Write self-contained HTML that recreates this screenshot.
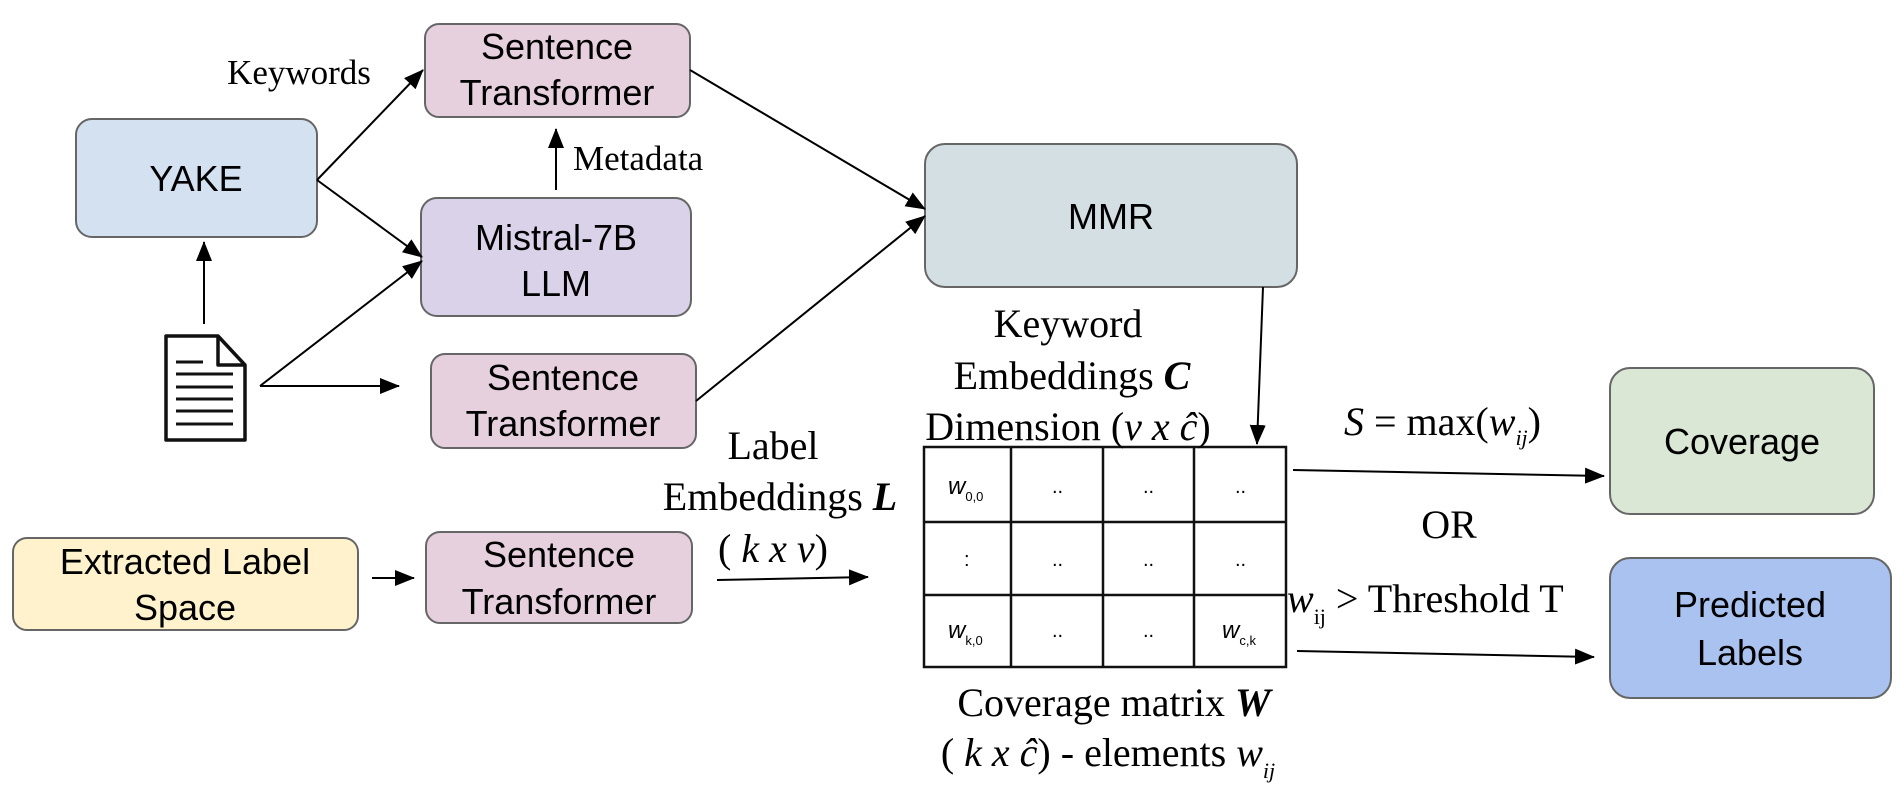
<!DOCTYPE html>
<html><head><meta charset="utf-8"><style>
html,body{margin:0;padding:0;background:#fff;}
svg{display:block;}
.s{font-family:"Liberation Sans",sans-serif;font-size:36px;fill:#000;text-anchor:middle;}
.r{font-family:"Liberation Serif",serif;font-size:40px;fill:#000;text-anchor:middle;}
.m{font-family:"Liberation Sans",sans-serif;font-size:20px;fill:#000;}
</style></head><body>
<svg width="1904" height="796" viewBox="0 0 1904 796" xmlns="http://www.w3.org/2000/svg">
<defs>
<marker id="b" markerWidth="20" markerHeight="16" refX="19" refY="8" orient="auto" markerUnits="userSpaceOnUse" viewBox="0 0 20 16"><path d="M0,0 L20,8 L0,16 z" fill="#000"/></marker></defs>
<g stroke="#666" stroke-width="2">
<rect x="425" y="24" width="265" height="93" rx="14" fill="#e6d0de"/>
<rect x="76" y="119" width="241" height="118" rx="16" fill="#d4e1f1"/>
<rect x="421" y="198" width="270" height="118" rx="16" fill="#d9d2e8"/>
<rect x="431" y="354" width="265" height="94" rx="14" fill="#e6d0de"/>
<rect x="925" y="144" width="372" height="143" rx="20" fill="#d3dfe3"/>
<rect x="13" y="538" width="345" height="92" rx="14" fill="#fff2cc"/>
<rect x="426" y="532" width="266" height="91" rx="14" fill="#e6d0de"/>
<rect x="1610" y="368" width="264" height="146" rx="20" fill="#d9e7d4"/>
<rect x="1610" y="558" width="281" height="140" rx="20" fill="#a9c2ef"/>
</g>
<text class="s" x="557" y="59">Sentence</text><text class="s" x="557" y="105">Transformer</text>
<text class="s" x="196" y="191">YAKE</text>
<text class="s" x="556" y="250">Mistral-7B</text><text class="s" x="556" y="296">LLM</text>
<text class="s" x="563" y="390">Sentence</text><text class="s" x="563" y="436">Transformer</text>
<text class="s" x="1111" y="229">MMR</text>
<text class="s" x="185" y="574">Extracted Label</text><text class="s" x="185" y="620">Space</text>
<text class="s" x="559" y="567">Sentence</text><text class="s" x="559" y="614">Transformer</text>
<text class="s" x="1742" y="454">Coverage</text>
<text class="s" x="1750" y="617">Predicted</text><text class="s" x="1750" y="665">Labels</text>
<g fill="none" stroke="#111" stroke-width="3.5" stroke-linejoin="round">
<path d="M166,336 H218 L245,365 V440 H166 Z"/><path d="M218,336 V365 H245"/>
</g>
<g stroke="#111" stroke-width="3">
<line x1="176" y1="362" x2="203" y2="362"/><line x1="176" y1="374" x2="233" y2="374"/>
<line x1="176" y1="387" x2="233" y2="387"/><line x1="176" y1="399" x2="233" y2="399"/>
<line x1="176" y1="411" x2="233" y2="411"/><line x1="176" y1="424" x2="233" y2="424"/>
</g>
<g stroke="#000" stroke-width="2" fill="none">
<line x1="204" y1="324" x2="204" y2="242" marker-end="url(#b)"/>
<line x1="317" y1="180" x2="423" y2="70" marker-end="url(#b)"/>
<line x1="317" y1="180" x2="422" y2="257" marker-end="url(#b)"/>
<line x1="260" y1="386" x2="422" y2="261" marker-end="url(#b)"/>
<line x1="260" y1="386" x2="399" y2="386" marker-end="url(#b)"/>
<line x1="556" y1="190" x2="556" y2="129" marker-end="url(#b)"/>
<line x1="690" y1="70" x2="925" y2="209" marker-end="url(#b)"/>
<line x1="696" y1="401" x2="925" y2="216" marker-end="url(#b)"/>
<line x1="1263" y1="287" x2="1257" y2="444" marker-end="url(#b)"/>
<line x1="372" y1="578" x2="414" y2="578" marker-end="url(#b)"/>
<line x1="717" y1="580" x2="868" y2="577" marker-end="url(#b)"/>
<line x1="1293" y1="470" x2="1604" y2="476" marker-end="url(#b)"/>
<line x1="1297" y1="651" x2="1594" y2="657" marker-end="url(#b)"/>
</g>
<g stroke="#111" stroke-width="2.5" fill="none">
<rect x="924" y="447" width="362" height="220"/>
<line x1="1011" y1="447" x2="1011" y2="667"/><line x1="1103" y1="447" x2="1103" y2="667"/><line x1="1194" y1="447" x2="1194" y2="667"/>
<line x1="924" y1="522" x2="1286" y2="522"/><line x1="924" y1="595" x2="1286" y2="595"/>
</g>
<g class="m">
<text x="948" y="494" font-style="italic" font-size="24">w<tspan font-size="13" font-style="normal" dy="7">0,0</tspan></text>
<text x="1052" y="493">..</text><text x="1143" y="493">..</text><text x="1235" y="493">..</text>
<text x="964" y="566">:</text>
<text x="1052" y="566">..</text><text x="1143" y="566">..</text><text x="1235" y="566">..</text>
<text x="948" y="638" font-style="italic" font-size="24">w<tspan font-size="13" font-style="normal" dy="7">k,0</tspan></text>
<text x="1052" y="637">..</text><text x="1143" y="637">..</text>
<text x="1222" y="638" font-style="italic" font-size="24">w<tspan font-size="13" font-style="normal" dy="7">c,k</tspan></text>
</g>
<text class="r" x="299" y="84" style="font-size:35px">Keywords</text>
<text class="r" x="573" y="170" style="font-size:35px;text-anchor:start">Metadata</text>
<text class="r" x="773" y="459">Label</text>
<text class="r" x="780" y="510">Embeddings <tspan font-style="italic" font-weight="bold">L</tspan></text>
<text class="r" x="773" y="562">( <tspan font-style="italic">k x v</tspan>)</text>
<text class="r" x="1068" y="337">Keyword</text>
<text class="r" x="1072" y="389">Embeddings <tspan font-style="italic" font-weight="bold">C</tspan></text>
<text class="r" x="1068" y="440">Dimension (<tspan font-style="italic">v x ĉ</tspan>)</text>
<text class="r" x="1344" y="435" style="text-anchor:start"><tspan font-style="italic">S</tspan> = max(<tspan font-style="italic">w</tspan><tspan font-size="22" dy="10" font-style="italic">ij</tspan><tspan dy="-10">)</tspan></text>
<text class="r" x="1449" y="538">OR</text>
<text class="r" x="1287" y="612" style="text-anchor:start"><tspan font-style="italic">w</tspan><tspan font-size="22" dy="12">ij</tspan><tspan dy="-12"> &gt;  Threshold T</tspan></text>
<text class="r" x="1114" y="716">Coverage matrix <tspan font-style="italic" font-weight="bold">W</tspan></text>
<text class="r" x="1108" y="766">( <tspan font-style="italic">k x ĉ</tspan>) - elements <tspan font-style="italic">w</tspan><tspan font-size="22" dy="12" font-style="italic">ij</tspan></text>
</svg>
</body></html>
